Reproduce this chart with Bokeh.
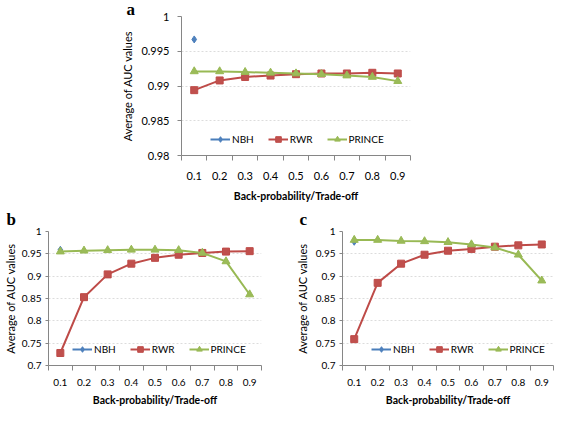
from bokeh.plotting import figure
from bokeh.layouts import column, row
from bokeh.models import (FixedTicker, NumeralTickFormatter, Legend, LegendItem,
                          Title, Range1d)
from bokeh.embed import file_html
from bokeh.resources import INLINE

# ---------------- data ----------------
x = [0.1, 0.2, 0.3, 0.4, 0.5, 0.6, 0.7, 0.8, 0.9]

a_nbh = [0.9967]
a_rwr = [0.9894, 0.9908, 0.9913, 0.9915, 0.9917, 0.9918, 0.9918, 0.9919, 0.9918]
a_prince = [0.9921, 0.9921, 0.9920, 0.9919, 0.9918, 0.9917, 0.9915, 0.9913, 0.9907]

b_nbh = [0.959]
b_rwr = [0.728, 0.853, 0.904, 0.928, 0.941, 0.948, 0.952, 0.955, 0.956]
b_prince = [0.955, 0.957, 0.958, 0.959, 0.959, 0.958, 0.952, 0.933, 0.859]

c_nbh = [0.977]
c_rwr = [0.759, 0.885, 0.928, 0.948, 0.957, 0.961, 0.966, 0.969, 0.971]
c_prince = [0.981, 0.981, 0.979, 0.978, 0.976, 0.971, 0.964, 0.948, 0.890]

a_yticks = [0.98, 0.985, 0.99, 0.995, 1.0]
bc_yticks = [0.7, 0.75, 0.8, 0.85, 0.9, 0.95, 1.0]

series_names = ["NBH", "RWR", "PRINCE"]
panel_letters = ["a", "b", "c"]
x_title = "Back-probability/Trade-off"
y_title = "Average of AUC values"

# category boundaries (half-way between neighbouring categories)
step = x[1] - x[0]
x_bounds = [round(x[0] - step / 2 + i * step, 3) for i in range(len(x) + 1)]

FONT = "Lato"
AXIS_COLOR = "#868686"
BLUE_L, BLUE_M = "#4A7EBB", "#4F81BD"
RED_L, RED_M = "#BE4B48", "#C0504D"
GREEN_L, GREEN_M = "#98B954", "#9BBB59"


def make_panel(letter, nbh, rwr, prince, yticks, ylab_fmt, width, height,
               mbl, mbr, mbt, mbb, legend_loc, letter_offset, letter_standoff,
               tick_fs, xlab_standoff, xtitle_standoff, ytick_out,
               ylab_standoff, ytitle_standoff, xtitle_fs):
    p = figure(width=width, height=height,
               x_range=Range1d(x_bounds[0], x_bounds[-1]),
               y_range=Range1d(yticks[0], yticks[-1]),
               output_backend="svg", toolbar_location=None,
               min_border_left=mbl, min_border_right=mbr,
               min_border_top=mbt, min_border_bottom=mbb)
    p.outline_line_color = None
    p.background_fill_color = "white"
    p.border_fill_color = "white"

    # panel letter
    p.add_layout(Title(text=letter, align="left", offset=letter_offset,
                       standoff=letter_standoff,
                       text_font="Liberation Serif", text_font_style="bold",
                       text_font_size="17px", text_color="#000000"), "above")

    # grid
    p.xgrid.visible = False
    p.ygrid.grid_line_color = "#dcdcdc"
    p.ygrid.grid_line_dash = "2 2"
    p.ygrid.grid_line_width = 1

    # x axis
    xa = p.xaxis[0]
    xa.ticker = FixedTicker(ticks=x, minor_ticks=x_bounds)
    xa.formatter = NumeralTickFormatter(format="0.0")
    xa.major_tick_out = 0
    xa.major_tick_in = 0
    xa.minor_tick_out = 5
    xa.minor_tick_in = 0
    xa.minor_tick_line_color = AXIS_COLOR
    xa.axis_line_color = AXIS_COLOR
    xa.major_label_text_font = FONT
    xa.major_label_text_font_size = tick_fs
    xa.major_label_text_color = "#000000"
    xa.major_label_standoff = xlab_standoff
    xa.axis_label = x_title
    xa.axis_label_text_font = FONT
    xa.axis_label_text_font_size = xtitle_fs
    xa.axis_label_text_font_style = "bold"
    xa.axis_label_text_color = "#000000"
    xa.axis_label_standoff = xtitle_standoff

    # y axis
    ya = p.yaxis[0]
    ya.ticker = FixedTicker(ticks=yticks)
    ya.formatter = NumeralTickFormatter(format=ylab_fmt)
    ya.major_tick_out = ytick_out
    ya.major_tick_in = 0
    ya.minor_tick_out = 0
    ya.minor_tick_in = 0
    ya.major_tick_line_color = AXIS_COLOR
    ya.axis_line_color = AXIS_COLOR
    ya.major_label_text_font = FONT
    ya.major_label_text_font_size = tick_fs
    ya.major_label_text_color = "#000000"
    ya.major_label_standoff = ylab_standoff
    ya.axis_label = y_title
    ya.axis_label_text_font = FONT
    ya.axis_label_text_font_size = "11px"
    ya.axis_label_text_font_style = "normal"
    ya.axis_label_text_color = "#000000"
    ya.axis_label_standoff = ytitle_standoff

    # series
    l_nbh = p.line(x[:len(nbh)], nbh, line_color=BLUE_L, line_width=2)
    s_nbh = p.scatter(x[:len(nbh)], nbh, marker="diamond", size=7,
                      fill_color=BLUE_M, line_color=BLUE_L)
    l_rwr = p.line(x, rwr, line_color=RED_L, line_width=2)
    s_rwr = p.scatter(x, rwr, marker="square", size=7,
                      fill_color=RED_M, line_color=RED_L)
    l_pr = p.line(x, prince, line_color=GREEN_L, line_width=2)
    s_pr = p.scatter(x, prince, marker="triangle", size=8,
                     fill_color=GREEN_M, line_color=GREEN_L)

    legend = Legend(items=[
        LegendItem(label=series_names[0], renderers=[l_nbh, s_nbh]),
        LegendItem(label=series_names[1], renderers=[l_rwr, s_rwr]),
        LegendItem(label=series_names[2], renderers=[l_pr, s_pr]),
    ], location=legend_loc, orientation="horizontal")
    legend.background_fill_alpha = 0
    legend.border_line_alpha = 0
    legend.padding = 0
    legend.margin = 0
    legend.spacing = 14
    legend.glyph_width = 20
    legend.glyph_height = 14
    legend.label_standoff = 2
    legend.label_text_font = FONT
    legend.label_text_font_size = "10px"
    legend.label_text_color = "#000000"
    legend.label_height = 14
    legend.label_width = 10
    p.add_layout(legend, "center")
    return p


pa = make_panel(panel_letters[0], a_nbh, a_rwr, a_prince, a_yticks, "0.[000]",
                width=430, height=204, mbl=181, mbr=20, mbt=15, mbb=46,
                legend_loc=(29, 9), letter_offset=-55, letter_standoff=-5,
                tick_fs="11px", xlab_standoff=11, xtitle_standoff=7,
                ytick_out=4, ylab_standoff=8, ytitle_standoff=4,
                xtitle_fs="10.5px")
pb = make_panel(panel_letters[1], b_nbh, b_rwr, b_prince, bc_yticks, "0.[00]",
                width=292, height=204, mbl=42, mbr=31, mbt=24, mbb=39,
                legend_loc=(24, 9), letter_offset=-42, letter_standoff=6,
                tick_fs="10px", xlab_standoff=8, xtitle_standoff=5,
                ytick_out=3, ylab_standoff=4, ytitle_standoff=2,
                xtitle_fs="10.5px")
pc = make_panel(panel_letters[2], c_nbh, c_rwr, c_prince, bc_yticks, "0.[00]",
                width=263, height=204, mbl=46, mbr=2, mbt=24, mbb=39,
                legend_loc=(29, 9), letter_offset=-43, letter_standoff=6,
                tick_fs="10px", xlab_standoff=8, xtitle_standoff=5,
                ytick_out=3, ylab_standoff=4, ytitle_standoff=4,
                xtitle_fs="10.5px")

layout = column(pa, row(pb, pc))
open("out.html", "w").write(file_html(layout, INLINE))
